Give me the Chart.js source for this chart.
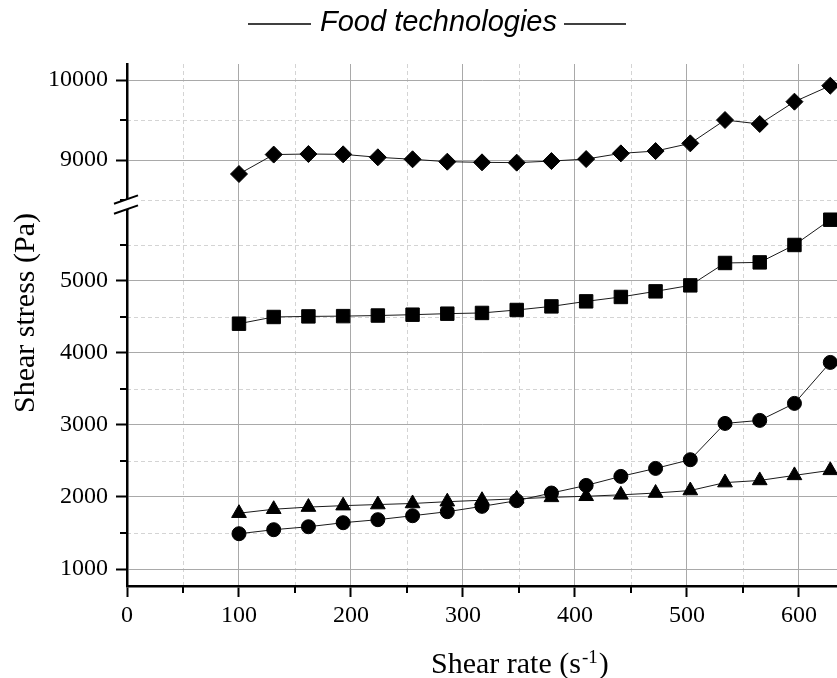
<!DOCTYPE html>
<html>
<head>
<meta charset="utf-8">
<script src="https://cdn.jsdelivr.net/npm/chart.js@4.4.0/dist/chart.umd.min.js"></script>
<style>
  html, body { margin: 0; background: #fff; }
  #wrap { width: 837px; height: 678px; }
</style>
</head>
<body>
<div id="wrap"><canvas id="stressChart"></canvas></div>
<script>
// shear rate (1/s) and shear stress (Pa) for the four samples
const shearRate = [100, 131, 162, 193, 224, 255, 286, 317, 348, 379, 410, 441, 472, 503, 534, 565, 596, 628];
const stressDiamond = [8825, 9068, 9075, 9071, 9034, 9009, 8979, 8971, 8967, 8987, 9012, 9083, 9112, 9208, 9500, 9450, 9729, 9929];
const stressSquare = [4407, 4500, 4508, 4512, 4520, 4532, 4546, 4556, 4597, 4647, 4717, 4778, 4856, 4939, 5250, 5258, 5500, 5851];
const stressCircle = [1490, 1546, 1587, 1643, 1685, 1740, 1796, 1870, 1949, 2055, 2161, 2286, 2397, 2518, 3022, 3064, 3300, 3869];
const stressTriangle = [1775, 1830, 1860, 1880, 1895, 1910, 1935, 1955, 1975, 1995, 2010, 2030, 2055, 2090, 2200, 2230, 2300, 2370];

// tick labels
const xTicks = [0, 100, 200, 300, 400, 500, 600];
const yLowTicks = [1000, 2000, 3000, 4000, 5000];
const yHighTicks = [9000, 10000];

// axis ranges: the y axis is broken between the lower and upper part
const xRange = [0, 634];
const yLowRange = [764, 5990];
const yHighRange = [8379, 10200];

const serif = 'Liberation Serif, Times New Roman, serif';
const titleText = 'Food technologies';
const titleFont = {family: 'Liberation Sans, Arial, sans-serif', size: 29, style: 'italic', weight: 'normal'};

function series(label, values, style, radius, axis) {
    return {
        label: label,
        data: shearRate.map((x, i) => ({x: x, y: values[i]})),
        yAxisID: axis,
        showLine: true,
        tension: 0,
        borderColor: '#1a1a1a',
        borderWidth: 1,
        pointStyle: style,
        pointRadius: radius,
        pointBackgroundColor: '#000',
        pointBorderColor: '#000',
        pointBorderWidth: 1
    };
}

// minor positions halfway between the labelled ticks
function minorValues(scale) {
    const step = scale.options.ticks.stepSize;
    const out = [];
    for (let v = Math.ceil((scale.min - step / 2) / step) * step + step / 2; v <= scale.max; v += step) {
        out.push(v);
    }
    return out;
}

function seg(ctx, x1, y1, x2, y2) {
    ctx.beginPath();
    ctx.moveTo(x1, y1);
    ctx.lineTo(x2, y2);
    ctx.stroke();
}

// dashed minor grid, minor ticks, axis titles, break marks
const decor = {
    id: 'decor',
    beforeDraw(chart) {
        const {ctx, chartArea: a, scales} = chart;
        ctx.save();
        ctx.strokeStyle = '#d4d4d4';
        ctx.lineWidth = 1;
        ctx.setLineDash([4, 3]);
        minorValues(scales.x).forEach(v => {
            const px = Math.round(scales.x.getPixelForValue(v)) + 0.5;
            seg(ctx, px, a.top, px, a.bottom);
        });
        ['y', 'yTop'].forEach(id => {
            const s = scales[id];
            minorValues(s).forEach(v => {
                const py = Math.round(s.getPixelForValue(v)) + 0.5;
                seg(ctx, a.left, py, a.right, py);
            });
        });
        ctx.restore();
    },
    afterDraw(chart) {
        const {ctx, chartArea: a, scales} = chart;
        ctx.save();

        // minor ticks
        ctx.strokeStyle = '#000';
        ctx.lineWidth = 2;
        minorValues(scales.x).forEach(v => {
            const px = Math.round(scales.x.getPixelForValue(v));
            seg(ctx, px, a.bottom + 1, px, a.bottom + 7);
        });
        ['y', 'yTop'].forEach(id => {
            const s = scales[id];
            minorValues(s).forEach(v => {
                const py = Math.round(s.getPixelForValue(v));
                seg(ctx, a.left - 7, py, a.left - 1, py);
            });
        });

        // axis break
        const jx = a.left - 1, jy = scales.yTop.bottom - 5;
        ctx.fillStyle = '#fff';
        ctx.beginPath();
        ctx.moveTo(jx - 12, jy - 1);
        ctx.lineTo(jx + 12, jy - 9.3);
        ctx.lineTo(jx + 12, jy + 0.7);
        ctx.lineTo(jx - 12, jy + 9);
        ctx.closePath();
        ctx.fill();
        seg(ctx, jx - 12, jy - 1, jx + 12, jy - 9.3);
        seg(ctx, jx - 12, jy + 9, jx + 12, jy + 0.7);

        // lines either side of the chart title
        ctx.font = 'italic 29px ' + titleFont.family;
        const w = ctx.measureText(titleText).width;
        const cx = (chart.titleBlock.left + chart.titleBlock.right) / 2;
        ctx.lineWidth = 1.5;
        seg(ctx, cx - w / 2 - 72, 24, cx - w / 2 - 9, 24);
        seg(ctx, cx + w / 2 + 7, 24, cx + w / 2 + 69, 24);

        // x axis title with superscript
        ctx.fillStyle = '#000';
        ctx.textBaseline = 'alphabetic';
        ctx.textAlign = 'left';
        let tx = 431;
        ctx.font = '30px ' + serif;
        ctx.fillText('Shear rate (s', tx, 673);
        tx += ctx.measureText('Shear rate (s').width + 1;
        ctx.font = '19px ' + serif;
        ctx.fillText('-1', tx, 663);
        tx += ctx.measureText('-1').width + 1;
        ctx.font = '30px ' + serif;
        ctx.fillText(')', tx, 673);

        // y axis title, centred on the whole broken axis
        ctx.translate(34, (a.top + a.bottom) / 2 - 12);
        ctx.rotate(-Math.PI / 2);
        ctx.textAlign = 'center';
        ctx.fillText('Shear stress (Pa)', 0, 0);
        ctx.restore();
    }
};

const tickFont = {family: serif, size: 24};
const majorGrid = {color: '#a9a9a9', lineWidth: 1, tickColor: '#000', tickWidth: 2, tickLength: 11};
const axisBorder = {color: '#000', width: 2.5};

function useTicks(values) {
    return scale => { scale.ticks = values.map(v => ({value: v})); };
}

const ctx = document.getElementById('stressChart').getContext('2d');

const stressChart = new Chart(ctx, {
    type: 'scatter',
    data: {
        datasets: [
            series('Sample 1', stressDiamond, 'rectRot', 8.5, 'yTop'),
            series('Sample 2', stressSquare, 'rect', 9.5, 'y'),
            series('Sample 3', stressCircle, 'circle', 7, 'y'),
            series('Sample 4', stressTriangle, 'triangle', 8.5, 'y')
        ]
    },
    options: {
        responsive: true,
        maintainAspectRatio: false,
        animation: false,
        devicePixelRatio: 1,
        layout: {autoPadding: false, padding: {left: 40, right: 0, top: 0, bottom: 0}},
        scales: {
            x: {
                type: 'linear',
                min: xRange[0],
                max: xRange[1],
                afterBuildTicks: useTicks(xTicks),
                ticks: {stepSize: 100, font: tickFont, color: '#000', padding: 4, callback: v => String(v)},
                grid: majorGrid,
                border: axisBorder,
                afterFit(scale) { scale.height = 92; }
            },
            y: {
                type: 'linear',
                position: 'left',
                stack: 'stress',
                stackWeight: (yLowRange[1] - yLowRange[0]) * 0.072,
                weight: 0,
                min: yLowRange[0],
                max: yLowRange[1],
                afterBuildTicks: useTicks(yLowTicks),
                ticks: {stepSize: 1000, font: tickFont, color: '#000', padding: 8, callback: v => String(v)},
                grid: majorGrid,
                border: axisBorder,
                afterFit(scale) { scale.width = 87; }
            },
            yTop: {
                type: 'linear',
                position: 'left',
                stack: 'stress',
                stackWeight: (yHighRange[1] - yHighRange[0]) * 0.08,
                weight: 1,
                min: yHighRange[0],
                max: yHighRange[1],
                afterBuildTicks: useTicks(yHighTicks),
                ticks: {stepSize: 1000, font: tickFont, color: '#000', padding: 8, callback: v => String(v)},
                grid: majorGrid,
                border: axisBorder,
                afterFit(scale) { scale.width = 87; }
            }
        },
        plugins: {
            legend: {display: false},
            tooltip: {enabled: false},
            title: {
                display: true,
                text: titleText,
                color: '#000',
                font: titleFont,
                padding: {top: 6, bottom: 23.2}
            }
        }
    },
    plugins: [decor]
});
</script>
</body>
</html>
